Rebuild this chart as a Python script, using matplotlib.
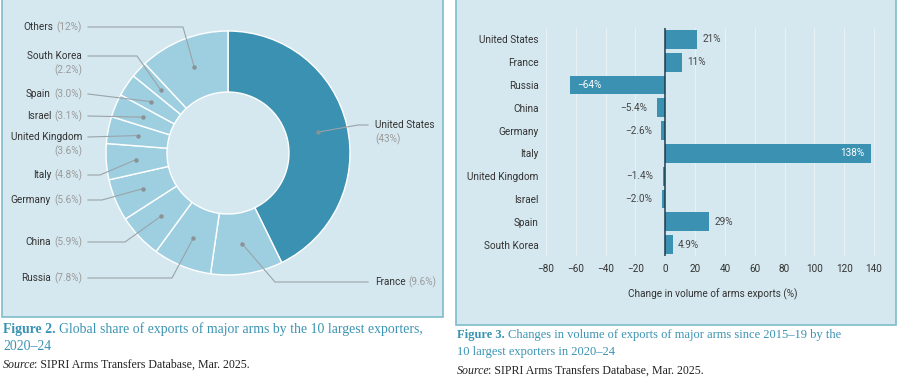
import math

import matplotlib

matplotlib.use("Agg")

import matplotlib.pyplot as plt  # noqa: E402
import numpy as np  # noqa: E402
from matplotlib.patches import Rectangle  # noqa: E402

W, H = 900, 378
_PANEL = "#d5e8ef"
_BORDER = "#7dbccb"
_DARK = "#3a91b2"
_LIGHT = "#9ecfe1"
_INK = "#333333"
_MUTED = "#9a9a9a"
_LEADER = "#9aa3a8"
_TEAL = "#3a93b2"
_SANS = "Roboto"
_SERIF = "Liberation Serif"

# Figure 2: global share of exports (%), clockwise from 12 o'clock
share_names = ["United States", "France", "Russia", "China", "Germany", "Italy",
               "United Kingdom", "Israel", "Spain", "South Korea", "Others"]
share_values = [43, 9.6, 7.8, 5.9, 5.6, 4.8, 3.6, 3.1, 3.0, 2.2, 12]
share_labels = ["(43%)", "(9.6%)", "(7.8%)", "(5.9%)", "(5.6%)", "(4.8%)",
                "(3.6%)", "(3.1%)", "(3.0%)", "(2.2%)", "(12%)"]

# Figure 3: change in volume of arms exports, 2015-19 -> 2020-24 (%)
change_names = ["United States", "France", "Russia", "China", "Germany", "Italy",
                "United Kingdom", "Israel", "Spain", "South Korea"]
change_values = [21, 11, -64, -5.4, -2.6, 138, -1.4, -2.0, 29, 4.9]
change_labels = ["21%", "11%", "\u221264%", "\u22125.4%", "\u22122.6%", "138%",
                 "\u22121.4%", "\u22122.0%", "29%", "4.9%"]

# label layout for the donut (pixel rows from top): side, text y, two lines, elbow x
_LABEL_LAYOUT = {
    "United States": ("right", 125, True, 358),
    "France": ("right", 282, False, 275),
    "Russia": ("left", 278, False, 172),
    "China": ("left", 242, False, 125),
    "Germany": ("left", 200, False, 102),
    "Italy": ("left", 175, False, 100),
    "United Kingdom": ("left", 137, True, None),
    "Israel": ("left", 116, False, None),
    "Spain": ("left", 94, False, None),
    "South Korea": ("left", 56, True, 137),
    "Others": ("left", 27, False, 183),
}


def Y(y):
    return H - y


fig = plt.figure(figsize=(W / 100, H / 100), dpi=100)
fig.patch.set_facecolor("white")
renderer = fig.canvas.get_renderer()

base = fig.add_axes([0, 0, 1, 1])

# panels
for x0, x1, y1 in [(2, 443, 317), (456, 896, 325)]:
    base.add_patch(Rectangle((x0, Y(y1)), x1 - x0, y1 + 5, facecolor=_PANEL,
                             edgecolor=_BORDER, linewidth=1.2, zorder=0))

# donut
cx, cy, R = 228, 153, 122
colors = [_DARK] + [_LIGHT] * (len(share_values) - 1)
base.pie(share_values, colors=colors, startangle=90, counterclock=False,
         center=(cx, Y(cy)), radius=R,
         wedgeprops=dict(width=61, edgecolor="white", linewidth=1.0))

total = sum(share_values)
cum = 0.0
for name, val, pct in zip(share_names, share_values, share_labels):
    mid = 90 - 360 * (cum + val / 2) / total
    cum += val
    dx = cx + 0.755 * R * math.cos(math.radians(mid))
    dy = Y(cy) + 0.755 * R * math.sin(math.radians(mid))
    side, ty, two, elbow = _LABEL_LAYOUT[name]
    fs = 7.2
    if side == "left":
        tx, lx = 82, 88
        if two:
            base.text(tx, Y(ty), name, ha="right", va="center", fontsize=fs,
                      family=_SANS, color=_INK)
            base.text(tx, Y(ty + 14), pct, ha="right", va="center", fontsize=fs,
                      family=_SANS, color=_MUTED)
        else:
            t = base.text(tx, Y(ty), pct, ha="right", va="center", fontsize=fs,
                          family=_SANS, color=_MUTED)
            w = t.get_window_extent(renderer).width
            base.text(tx - w - 3, Y(ty), name, ha="right", va="center",
                      fontsize=fs, family=_SANS, color=_INK)
    else:
        tx, lx = 375, 368
        t = base.text(tx, Y(ty), name, ha="left", va="center", fontsize=fs,
                      family=_SANS, color=_INK)
        if two:
            base.text(tx, Y(ty + 14), pct, ha="left", va="center", fontsize=fs,
                      family=_SANS, color=_MUTED)
        else:
            w = t.get_window_extent(renderer).width
            base.text(tx + w + 3, Y(ty), pct, ha="left", va="center",
                      fontsize=fs, family=_SANS, color=_MUTED)
    xs = [lx] + ([elbow] if elbow is not None else []) + [dx]
    ys = [Y(ty)] + ([Y(ty)] if elbow is not None else []) + [dy]
    base.plot(xs, ys, color=_LEADER, lw=0.8, zorder=5)
    base.plot([dx], [dy], "o", ms=2.2, color="#8a9296", zorder=6)

base.set_xlim(0, W)
base.set_ylim(0, H)
base.set_aspect("auto")
base.axis("off")


def runs(x, y, parts):
    for text, kw in parts:
        t = base.text(x, Y(y), text, ha="left", va="center", **kw)
        x += t.get_window_extent(renderer).width
        if kw.get("style") == "italic":
            x -= 2


cap_l = dict(family=_SERIF, fontsize=9.9, color=_TEAL)
cap_r = dict(family=_SERIF, fontsize=9.0, color=_TEAL)
src = dict(family=_SERIF, fontsize=8.6, color="#222222")
runs(3, 329, [("Figure 2. ", dict(cap_l, weight="bold")),
              ("Global share of exports of major arms by the 10 largest exporters,", cap_l)])
runs(3, 347, [("2020\u201324", cap_l)])
runs(3, 365, [("Source", dict(src, style="italic")),
              (": SIPRI Arms Transfers Database, Mar. 2025.", src)])
runs(457, 335, [("Figure 3. ", dict(cap_r, weight="bold")),
                ("Changes in volume of exports of major arms since 2015\u201319 by the", cap_r)])
runs(457, 352, [("10 largest exporters in 2020\u201324", cap_r)])
runs(457, 371, [("Source", dict(src, style="italic")),
                (": SIPRI Arms Transfers Database, Mar. 2025.", src)])

# bar chart
ax = fig.add_axes([543 / W, (H - 256) / H, 340 / W, 228 / H])
ax.set_facecolor("none")
pos = np.arange(len(change_names))
ax.barh(pos, change_values, height=0.83, color=_DARK, zorder=2)
ax.set_xlim(-82, 146)
ax.set_ylim(len(change_names) - 0.5, -0.5)
ax.set_xticks(np.arange(-80, 141, 20))
ax.set_yticks(pos, change_names)
ax.grid(axis="x", color="#e9f1f4", lw=0.8, zorder=0)
ax.set_axisbelow(True)
ax.axvline(0, color="#1e3c4c", lw=1.1, zorder=3)
for s in ax.spines.values():
    s.set_visible(False)
ax.tick_params(length=0, labelsize=7.2, labelcolor=_INK)
ax.tick_params(axis="x", pad=6)
ax.tick_params(axis="y", pad=3)
for lab in ax.get_xticklabels() + ax.get_yticklabels():
    lab.set_family(_SANS)
ax.set_xlabel("Change in volume of arms exports (%)", fontsize=7.2,
              family=_SANS, color=_INK, labelpad=10)

for p, v, lab in zip(pos, change_values, change_labels):
    if abs(v) > 50:
        ax.annotate(lab, (v, p), textcoords="offset points",
                    xytext=(-5 if v > 0 else 5, 0), va="center",
                    ha="right" if v > 0 else "left", fontsize=7.2,
                    family=_SANS, color="white")
    else:
        ax.annotate(lab, (v, p), textcoords="offset points",
                    xytext=(4 if v > 0 else -7, 0), va="center",
                    ha="left" if v > 0 else "right", fontsize=7.2,
                    family=_SANS, color="#444444")

fig.savefig("out.png", dpi=100)
